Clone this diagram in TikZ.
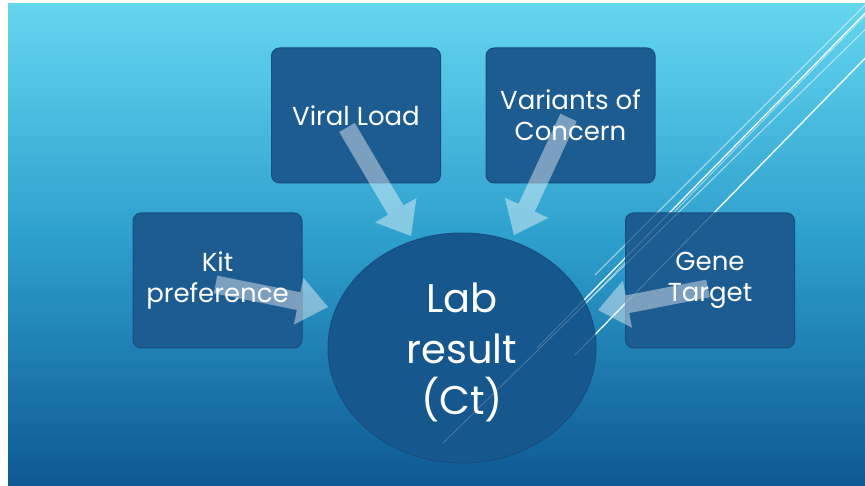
\documentclass[tikz,border=0pt]{standalone}
\usepackage{fontspec}
\setmainfont{Poppins}
\usetikzlibrary{calc,shapes.geometric}
\definecolor{bgtop}{RGB}{100,214,240}
\definecolor{bgmid}{RGB}{44,158,204}
\definecolor{bgbot}{RGB}{14,88,148}
\definecolor{boxblue}{RGB}{28,92,145}
\definecolor{boxedge}{RGB}{22,78,128}
\definecolor{circblue}{RGB}{22,87,142}
\newcommand{\blockarrow}[2]{%
  \coordinate (ba-b) at ($(#2)!30pt!(#1)$);
  \fill[arrowfill] ($(#1)!9pt!90:(#2)$) -- ($(ba-b)!9pt!90:(#2)$) -- ($(ba-b)!24pt!90:(#2)$) -- (#2) -- ($(ba-b)!24pt!-90:(#2)$) -- ($(ba-b)!9pt!-90:(#2)$) -- ($(#1)!9pt!-90:(#2)$) -- cycle;
}
\begin{document}
\begin{tikzpicture}[x=1pt,y=-1pt,
  infobox/.style={rectangle, rounded corners=8pt, fill=boxblue, draw=boxedge, line width=1pt,
    minimum width=169pt, minimum height=135pt, inner sep=0pt},
  boxtext/.style={text=white, align=center, inner sep=0pt, font=\fontsize{26}{31}\selectfont},
  bigcirc/.style={ellipse, fill=circblue, draw=boxedge, line width=1pt,
    minimum width=268pt, minimum height=230pt, inner sep=0pt},
  circtext/.style={text=white, align=center, inner sep=0pt, font=\fontsize{40}{51}\selectfont},
  arrowfill/.style={fill=white, fill opacity=0.42},
  brightline/.style={white, line width=1.4pt, opacity=0.9},
  faintline/.style={white, line width=0.8pt, opacity=0.55},
  overline/.style={white, line width=0.8pt, opacity=0.22}]
\useasboundingbox (0,0) rectangle (865,486);
\fill[white] (0,0) rectangle (865,486);
\shade[top color=bgtop, bottom color=bgbot, middle color=bgmid] (8,4) rectangle (865,486);
% diagonal lines (background)
\begin{scope}
\clip (8,4) rectangle (865,486);
\coordinate (la1) at (875,-5); \coordinate (la2) at (595,275);
\coordinate (lb1) at (880,-2); \coordinate (lb2) at (537,348);
\coordinate (lb3) at (883,-3); \coordinate (lb4) at (541,349);
\coordinate (lc1) at (880,15); \coordinate (lc2) at (443,443);
\coordinate (ld1) at (880,43); \coordinate (ld2) at (575,355);
\draw[faintline] (la1) -- (la2);
\draw[brightline] (lb1) -- (lb2);
\draw[faintline] (lb3) -- (lb4);
\draw[faintline] (lc1) -- (lc2);
\draw[brightline] (ld1) -- (ld2);
\end{scope}
% boxes
\node[infobox] (vl) at (356,115.5) {};
\node[infobox] (vc) at (570.5,115.5) {};
\node[infobox] (kp) at (217.5,280.5) {};
\node[infobox] (gt) at (710,280.5) {};
% arrows
\coordinate (vlS) at ($(vl)+(-9,12)$);  \coordinate (vlT) at (411,236);
\coordinate (vcS) at ($(vc)+(-2,2)$);   \coordinate (vcT) at (514,235);
\coordinate (kpS) at ($(kp)+(-2,4)$);   \coordinate (kpT) at (328,307);
\coordinate (gtS) at ($(gt)+(-2,8)$);   \coordinate (gtT) at (598,310);
\blockarrow{vlS}{vlT}
\blockarrow{vcS}{vcT}
\blockarrow{kpS}{kpT}
\blockarrow{gtS}{gtT}
% box texts
\node[boxtext] (vltxt) at (vl) {Viral Load};
\node[boxtext] (vctxt) at (vc) {Variants of\\Concern};
\node[boxtext] (kptxt) at (kp) {Kit\\preference};
\node[boxtext] (gttxt) at (gt) {Gene\\Target};
% central circle
\node[bigcirc] (lab) at (462,348) {};
\node[circtext] (labtxt) at ($(lab)+(0,4)$) {Lab\\result\\(Ct)};
% lines faintly over the shapes
\draw[overline] (la1) -- (la2);
\draw[overline] (lb1) -- (lb2);
\draw[overline] (lc1) -- (lc2);
\draw[overline] (ld1) -- (ld2);
\end{tikzpicture}
\end{document}
